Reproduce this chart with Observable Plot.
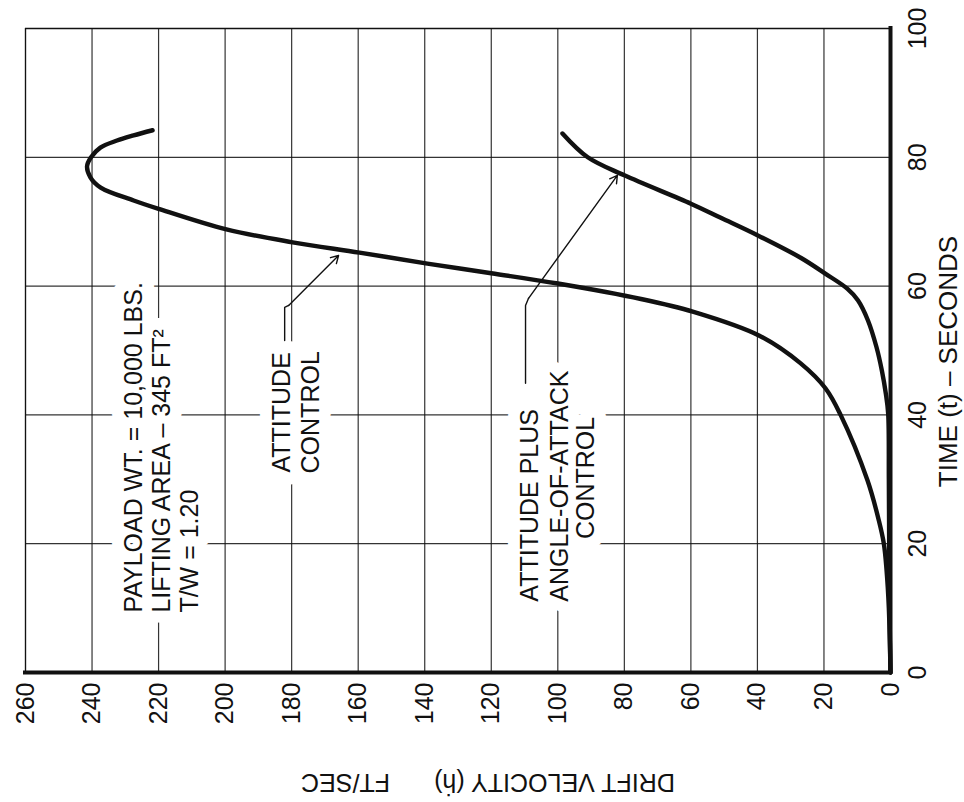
<!DOCTYPE html>
<html>
<head>
<meta charset="utf-8">
<script src="https://cdn.jsdelivr.net/npm/d3@7"></script>
<script src="https://cdn.jsdelivr.net/npm/@observablehq/plot@0.6"></script>
<style>
  html, body { margin: 0; padding: 0; background: #fff; }
  svg { display: block; }
</style>
</head>
<body>
<div id="chart"></div>
<script>
// ---- axis ticks ----
const velocityTicks = [0, 20, 40, 60, 80, 100, 120, 140, 160, 180, 200, 220, 240, 260];
const timeTicks = [0, 20, 40, 60, 80, 100];

// ---- series: ATTITUDE CONTROL (time s, drift velocity ft/sec) ----
const attitudeTime     = [0, 10, 16, 20, 23.6, 29.8, 40, 44.1, 48, 52.3, 56, 58, 60.4, 62, 63.5, 65.2, 66.8, 68.8, 72, 73.3, 75.3, 76.9, 78.6, 80, 81.5, 82.6, 83.4, 84.2];
const attitudeVelocity = [0, 0.5, 1.2, 2, 3.5, 6.9, 15, 19.5, 27, 39.4, 59.2, 75, 100, 120, 139.2, 159.6, 179.7, 199.6, 220, 227.5, 237.4, 240.5, 241.5, 240.3, 237.5, 232.5, 227.5, 221.8];

// ---- series: ATTITUDE PLUS ANGLE-OF-ATTACK CONTROL ----
const aoaTime     = [0, 10, 20, 30, 40.2, 43.3, 46.9, 50.5, 54.7, 57.8, 59.6, 61.9, 64.4, 67.9, 70.6, 72.8, 77.2, 80, 83.7];
const aoaVelocity = [0, 0.3, 0.4, 0.5, 0.7, 1.4, 2.6, 4.2, 6.8, 9.8, 13, 19.5, 27, 40, 51, 60, 80, 91, 98.6];

// ---- text ----
const timeTitle = "TIME (t) \u2013 SECONDS";
const velocityTitle = "DRIFT VELOCITY (\u1E23)";
const velocityUnit = "FT/SEC";
const payloadNote = "PAYLOAD WT. = 10,000 LBS.\nLIFTING AREA \u2013 345 FT\u00B2\nT/W = 1.20";
const attitudeLabel = "ATTITUDE\nCONTROL";
const aoaLabelTop = "ATTITUDE PLUS\nANGLE-OF-ATTACK";
const aoaLabelBottom = "CONTROL";

// ---- leader lines (time, velocity) ----
const attitudeLeaderT = [51.55, 56.7, 57.0];
const attitudeLeaderV = [182.1, 182.1, 180.9];
const attitudeArrowTip = {t: 64.75, v: 165.9};
const aoaLeaderT = [44.9, 57.0, 58.1];
const aoaLeaderV = [109.7, 109.7, 108.8];
const aoaArrowTip = {t: 77.2, v: 82.1};

const zip = (ts, vs) => ts.map((t, i) => ({t, v: vs[i]}));
const attitude = zip(attitudeTime, attitudeVelocity);
const aoa = zip(aoaTime, aoaVelocity);
const attLeader = zip(attitudeLeaderT, attitudeLeaderV);
const aoaLeader = zip(aoaLeaderT, aoaLeaderV);

const ink = "#111";
const gridStyle = {stroke: ink, strokeOpacity: 0.85, strokeWidth: 1.2};

// annotation blocks: text + anchor position in data space
const notes = [
  {text: payloadNote, v: 231.1, t: 9.3, anchor: "start", line: "top", lh: 1.12},
  {text: attitudeLabel, v: 178.8, t: 40.4, anchor: "middle", line: "middle", lh: 1.15},
  {text: aoaLabelTop, v: 112.4, t: 11.0, anchor: "start", line: "top", lh: 1.2},
  {text: aoaLabelBottom, v: 92.0, t: 30.2, anchor: "middle", line: "middle", lh: 1.2}
];
const noteMarks = (extra) => notes.map(n => Plot.text([n], {
  x: "v", y: "t", text: "text", rotate: -90, textAnchor: n.anchor, lineAnchor: n.line,
  lineHeight: n.lh, fontSize: 25, ...extra
}));

const chart = Plot.plot({
  width: 964,
  height: 802,
  marginLeft: 25,
  marginRight: 74,
  marginTop: 28,
  marginBottom: 130,
  style: {fontFamily: "'Liberation Sans', Arial, sans-serif", fontSize: "25px", background: "white", color: ink},
  x: {domain: [260, 0], axis: null},
  y: {domain: [0, 100], axis: null},
  marks: [
    Plot.gridX(velocityTicks, gridStyle),
    Plot.gridY(timeTicks, gridStyle),
    // white halos breaking the grid behind the notes
    ...noteMarks({fill: "white", stroke: "white", strokeWidth: 24, strokeLinejoin: "round"}),
    ...noteMarks({fill: ink}),
    // frame
    Plot.ruleX([260], {stroke: ink, strokeWidth: 1.2}),
    Plot.ruleY([100], {stroke: ink, strokeWidth: 1.4}),
    Plot.ruleX([0], {stroke: ink, strokeWidth: 4, strokeLinecap: "square"}),
    Plot.ruleY([0], {stroke: ink, strokeWidth: 4, strokeLinecap: "square"}),
    // curves
    Plot.line(attitude, {x: "v", y: "t", curve: "catmull-rom", stroke: ink, strokeWidth: 4.4, strokeLinecap: "round"}),
    Plot.line(aoa, {x: "v", y: "t", curve: "catmull-rom", stroke: ink, strokeWidth: 4.4, strokeLinecap: "round"}),
    // leaders
    Plot.line(attLeader, {x: "v", y: "t", stroke: ink, strokeWidth: 1.4}),
    Plot.arrow([attitudeArrowTip], {x1: () => attLeader[2].v, y1: () => attLeader[2].t, x2: "v", y2: "t", stroke: ink, strokeWidth: 1.4, headLength: 9}),
    Plot.line(aoaLeader, {x: "v", y: "t", stroke: ink, strokeWidth: 1.4}),
    Plot.arrow([aoaArrowTip], {x1: () => aoaLeader[2].v, y1: () => aoaLeader[2].t, x2: "v", y2: "t", stroke: ink, strokeWidth: 1.4, headLength: 9}),
    // velocity tick labels (bottom, rotated)
    Plot.text(velocityTicks, {x: d => d, frameAnchor: "bottom", dy: 10, rotate: -90, textAnchor: "end", lineAnchor: "middle", fill: ink, fontSize: 25}),
    // time tick labels (right, rotated)
    Plot.text(timeTicks, {y: d => d, frameAnchor: "right", dx: 27, rotate: -90, textAnchor: "middle", lineAnchor: "middle", fill: ink, fontSize: 25}),
    // axis titles
    Plot.text([timeTitle], {frameAnchor: "right", dx: 58, dy: 11, rotate: -90, text: d => d, textAnchor: "middle", lineAnchor: "middle", fill: ink, fontSize: 26}),
    Plot.text([velocityTitle], {frameAnchor: "bottom", dx: 96.5, dy: 109, rotate: 180, text: d => d, textAnchor: "middle", lineAnchor: "middle", fill: ink, fontSize: 25}),
    Plot.text([velocityUnit], {frameAnchor: "bottom", dx: -112.5, dy: 109, rotate: 180, text: d => d, textAnchor: "middle", lineAnchor: "middle", fill: ink, fontSize: 25})
  ]
});
document.getElementById("chart").append(chart);
</script>
</body>
</html>
